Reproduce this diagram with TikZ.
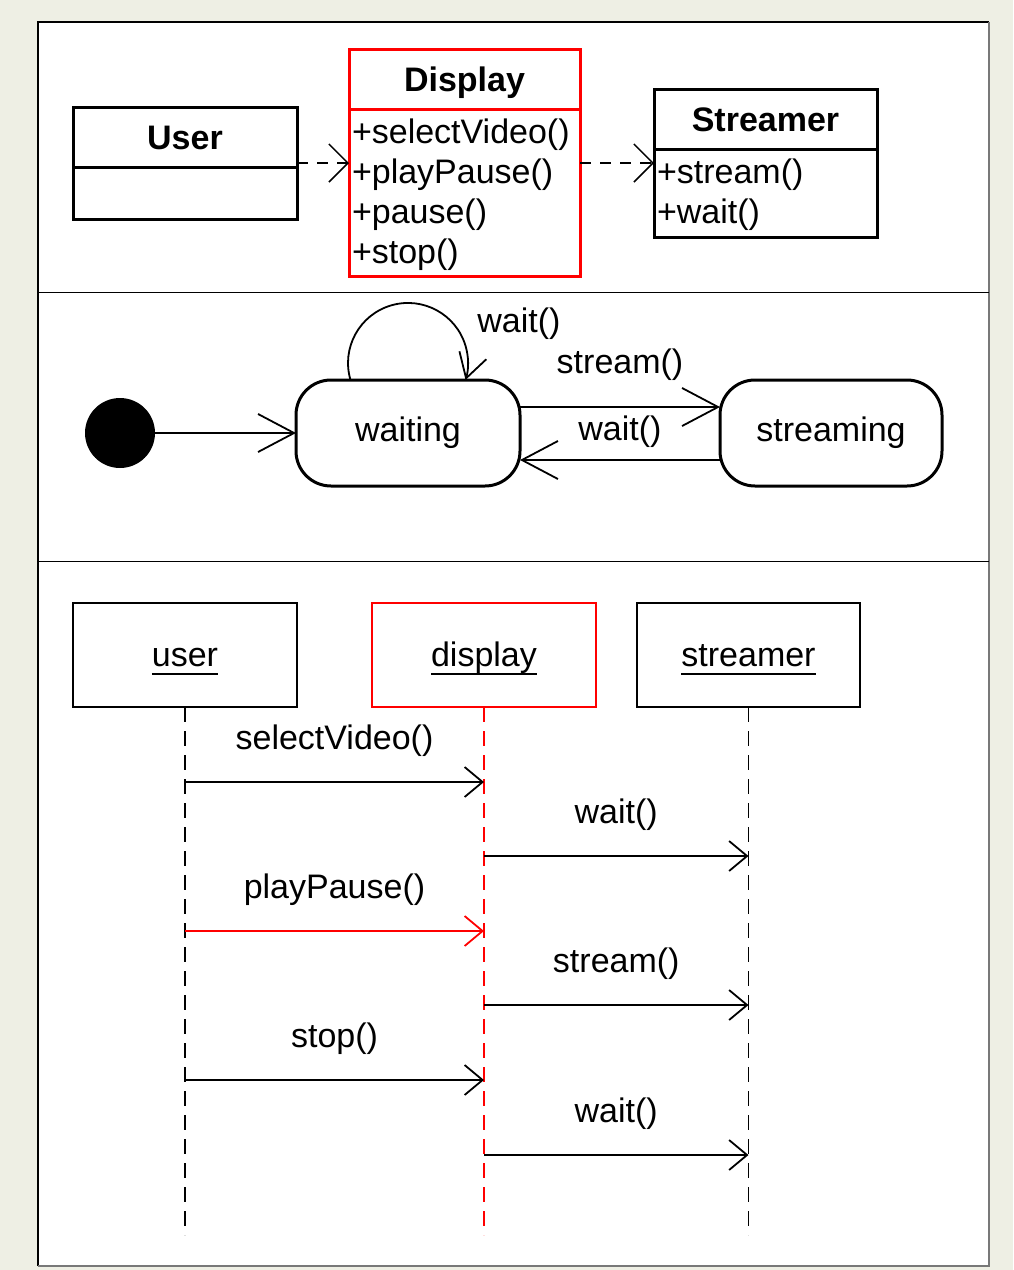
\documentclass[tikz,border=0pt]{standalone}
\usepackage{fontspec}
\setmainfont{Liberation Sans}
\usepackage{tikz}
\usetikzlibrary{arrows.meta, positioning, calc}
\definecolor{cBack}{RGB}{238,239,228}
\definecolor{cFrame}{RGB}{120,120,120}
\definecolor{cRed}{RGB}{255,0,0}
\newcommand{\diafont}{\fontsize{34}{40}\selectfont}
\newcommand{\objname}[1]{\setbox0=\hbox{#1}\rlap{\smash{\vrule height -6pt depth 8pt width \wd0}}\smash{\box0}\rule[-1pt]{0pt}{25pt}}
\tikzset{
	% class diagram styles
	clshead/.style ={rectangle, draw=black, line width=3pt, outer sep=0pt, inner sep=0pt, minimum height=60pt, text height=24pt, text depth=0pt, font=\diafont\bfseries, align=center},
	clsbody/.style ={rectangle, draw=black, line width=3pt, outer sep=0pt, inner xsep=3pt, inner ysep=0pt, font=\diafont, align=left, execute at begin node=\rule{0pt}{29pt}},
	dep/.style     ={dash pattern=on 11pt off 9pt, line width=1.5pt, -{Straight Barb[length=19pt,width=38pt]}},
	% state diagram styles
	initst/.style  ={circle, fill=black, minimum size=70pt, inner sep=0pt},
	statebox/.style={rectangle, rounded corners=35pt, draw=black, line width=3pt, minimum width=224pt, minimum height=106pt, outer sep=0pt, font=\diafont},
	trans/.style   ={line width=1.8pt, -{Straight Barb[length=36pt,width=38pt]}},
	looptr/.style  ={line width=1.8pt, -{Straight Barb[length=24pt,width=28pt]}},
	% sequence diagram styles
	objbox/.style  ={rectangle, draw=black, line width=2.2pt, minimum width=224pt, minimum height=104pt, outer sep=0pt, font=\diafont},
	lifeline/.style={line width=1.8pt, dash pattern=on 15pt off 9pt},
	msg/.style     ={line width=1.8pt, -{Straight Barb[length=18pt,width=30pt]}},
}

\begin{document}
\begin{tikzpicture}[x=1pt, y=-1pt, every node/.append style={font=\diafont}]
	\fill[cBack] (0,0) rectangle (1013,1270);
	\fill[white] (38,22) rectangle (989,1266);
	\draw[black, line width=2pt] (38,1266) -- (38,22) -- (989,22);
	\draw[cFrame, line width=2pt] (989,22) -- (989,1266) -- (38,1266);
	\draw[line width=1pt] (38,292) -- (989,292);
	\draw[line width=1pt] (38,561) -- (989,561);

	% classes
	\node[clshead, minimum width=224pt] (userhead) at (185,137) {User};
	\node[clsbody, minimum width=224pt, minimum height=52pt, below=0pt of userhead] (userbody) {};
	\node[clshead, minimum width=231pt, draw=cRed] (disphead) at (464.5,79) {Display};
	\node[clsbody, text width=225pt, minimum height=167pt, draw=cRed, below=0pt of disphead] (dispbody) {+selectVideo()\\+playPause()\\+pause()\\+stop()};
	\node[clshead, minimum width=223pt] (strhead) at (765.5,119) {Streamer};
	\node[clsbody, text width=217pt, minimum height=88pt, below=0pt of strhead] (strbody) {+stream()\\+wait()};
	\draw[dep] ($(userhead.south east)+(0,-4)$) -- ($(userhead.south east -| dispbody.west)+(0,-4)$);
	\draw[dep] ($(userhead.south east -| dispbody.east)+(0,-4)$) -- ($(userhead.south east -| strbody.west)+(0,-4)$);

	% states
	\node[initst] (init) at (120,433) {};
	\node[statebox] (waiting) at (408,433) {waiting};
	\node[statebox, minimum width=222pt] (streaming) at (831,433) {streaming};
	\draw[trans] (init) -- (waiting);
	\draw[trans] ($(waiting.east)+(0,-26)$) -- ($(streaming.west)+(0,-26)$) node[midway, yshift=42pt] (lblstream) {stream()};
	\draw[trans] ($(streaming.west)+(0,27)$) -- ($(waiting.east)+(0,27)$) node[midway, yshift=28pt] (lblwait) {wait()};
	\draw[looptr] ($(waiting.north)+(-57.5,0)$) arc[start angle=163.5, end angle=376.5, radius=60];
	\node (lblloop) at (519,324) {wait()};

	% sequence
	\node[objbox] (ouser) at (185,655) {\objname{user}};
	\node[objbox, draw=cRed] (odisp) at (484,655) {\objname{display}};
	\node[objbox, minimum width=223pt] (ostream) at (748.5,655) {\objname{streamer}};
	\coordinate (userend) at (ouser.south |- 0,1235);
	\coordinate (dispend) at (odisp.south |- 0,1235);
	\coordinate (streamend) at (ostream.south |- 0,1235);
	\draw[lifeline] (ouser.south) -- (userend);
	\draw[lifeline, cRed] (odisp.south) -- (dispend);
	\draw[lifeline] (ostream.south) -- (streamend);
	\foreach \y/\src/\dst/\txt/\col in {782/ouser/odisp/selectVideo()/black, 856/odisp/ostream/wait()/black, 931/ouser/odisp/playPause()/cRed, 1005/odisp/ostream/stream()/black, 1080/ouser/odisp/stop()/black, 1155/odisp/ostream/wait()/black} {
		\draw[msg, draw=\col] (\src.south |- 0,\y) -- (\dst.south |- 0,\y) node[midway, yshift=41pt, text=black] (lbl\y) {\txt};
	}
\end{tikzpicture}
\end{document}
